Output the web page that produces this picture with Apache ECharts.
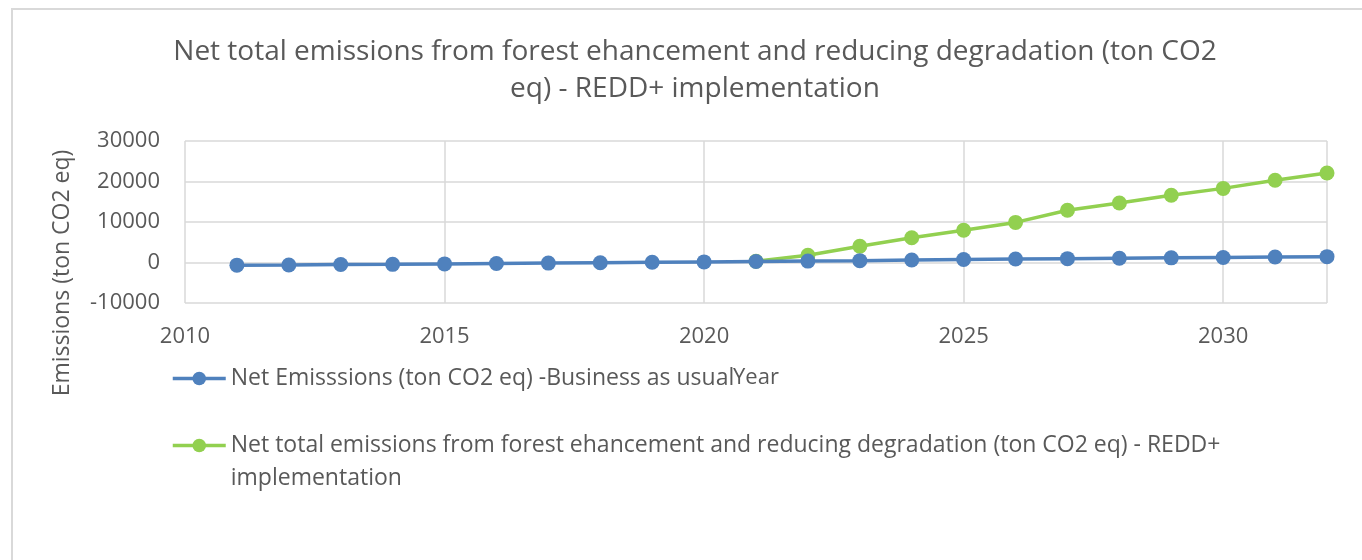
<!DOCTYPE html>
<html>
<head>
<meta charset="utf-8">
<script src="https://cdn.jsdelivr.net/npm/echarts@6/dist/echarts.min.js"></script>
<style>
html,body{margin:0;padding:0;background:#fff;}
#frame{position:absolute;left:11px;top:8px;width:1400px;height:600px;border-left:2px solid #D9D9D9;border-top:2px solid #D9D9D9;}
#chart{position:absolute;left:0;top:0;width:1362px;height:560px;}
</style>
</head>
<body>
<div id="frame"></div>
<div id="chart"></div>
<script>
var titleText = 'Net total emissions from forest ehancement and reducing degradation (ton CO2\neq) - REDD+ implementation';
var yAxisTitle = 'Emissions (ton CO2 eq)';
var xAxisTitle = 'Year';
var seriesNames = [
  'Net Emisssions (ton CO2 eq) -Business as usual',
  'Net total emissions from forest ehancement and reducing degradation (ton CO2 eq) - REDD+ implementation'
];
var years = [2011,2012,2013,2014,2015,2016,2017,2018,2019,2020,2021,2022,2023,2024,2025,2026,2027,2028,2029,2030,2031,2032];
var bauValues = [-650,-600,-500,-450,-350,-250,-150,-50,50,150,250,350,450,600,750,850,950,1050,1150,1250,1350,1450];
var reddYears = [2021,2022,2023,2024,2025,2026,2027,2028,2029,2030,2031,2032];
var reddValues = [300,1800,4000,6100,7950,9900,12900,14700,16600,18300,20300,22100];

var font = '"Open Sans", sans-serif';
var textColor = '#595959';

var chart = echarts.init(document.getElementById('chart'));
chart.setOption({
  animation: false,
  textStyle: {fontFamily: font},
  title: {
    text: titleText,
    left: 695, top: 34, textAlign: 'center', padding: 0,
    textStyle: {fontFamily: font, fontSize: 28, fontWeight: 'normal', color: textColor, lineHeight: 37}
  },
  grid: {left: 185, right: 35, top: 141, bottom: 257},
  legend: {
    orient: 'vertical',
    left: 171, top: 362, padding: 0,
    itemWidth: 53, itemHeight: 17, itemGap: 1,
    lineStyle: {width: 3.5},
    textStyle: {fontFamily: font, fontSize: 23, color: textColor, lineHeight: 33},
    formatter: function (n) {
      if (n === seriesNames[1]) { return '\n' + n.replace(' - REDD+ ', ' - REDD+\n'); }
      return n;
    },
    data: seriesNames
  },
  xAxis: {
    type: 'value', min: 2010, max: 2032, interval: 5,
    name: xAxisTitle, nameLocation: 'middle', nameGap: 64,
    nameTextStyle: {fontFamily: font, fontSize: 22, color: textColor},
    axisLine: {show: false}, axisTick: {show: false},
    axisLabel: {fontFamily: font, fontSize: 22, color: textColor, margin: 23,
      showMaxLabel: false,
      formatter: function (v) { return String(v); }},
    splitLine: {show: true, lineStyle: {color: '#D9D9D9', width: 1.5}}
  },
  yAxis: {
    type: 'value', min: -10000, max: 30000, interval: 10000,
    axisLine: {show: false}, axisTick: {show: false},
    axisLabel: {fontFamily: font, fontSize: 22, color: textColor, margin: 25,
      formatter: function (v) { return String(v); }},
    splitLine: {show: true, lineStyle: {color: '#D9D9D9', width: 1.5}}
  },
  graphic: [{
    type: 'text', x: 62, y: 273, rotation: Math.PI / 2,
    style: {text: yAxisTitle, font: '23px ' + font, fill: textColor, align: 'center', verticalAlign: 'middle'}
  }],
  series: [
    {
      name: seriesNames[0], type: 'line', z: 3,
      data: years.map(function (y, i) { return [y, bauValues[i]]; }),
      symbol: 'circle', symbolSize: 15,
      itemStyle: {color: '#4F81BD'},
      lineStyle: {color: '#4F81BD', width: 3.5}
    },
    {
      name: seriesNames[1], type: 'line', z: 2,
      data: reddYears.map(function (y, i) { return [y, reddValues[i]]; }),
      symbol: 'circle', symbolSize: 15,
      itemStyle: {color: '#92D050'},
      lineStyle: {color: '#92D050', width: 3.5}
    }
  ]
});
</script>
</body>
</html>
